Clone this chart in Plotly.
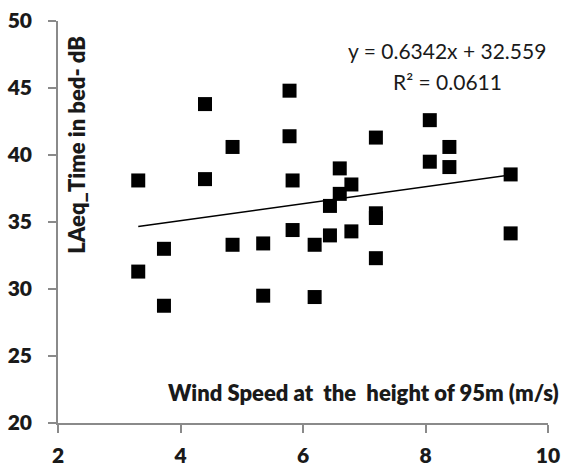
import plotly.graph_objects as go

# Wind speed at 95 m (m/s) and indoor LAeq while in bed (dB)
wind_speed = [3.31, 3.31, 3.73, 3.73, 4.40, 4.40, 4.85, 4.85, 5.35, 5.35,
              5.78, 5.78, 5.83, 5.83, 6.19, 6.19, 6.44, 6.44, 6.60, 6.60,
              6.79, 6.79, 7.19, 7.19, 7.19, 7.19, 8.07, 8.07, 8.39, 8.39,
              9.39, 9.39]
laeq_bed = [38.1, 31.3, 33.0, 28.75, 43.8, 38.2, 40.6, 33.3, 33.4, 29.5,
            44.8, 41.4, 38.1, 34.4, 33.3, 29.4, 36.2, 34.0, 39.0, 37.1,
            37.8, 34.3, 41.3, 35.65, 35.3, 32.3, 42.6, 39.5, 40.6, 39.1,
            38.55, 34.15]

# Linear fit reported on the chart
slope = 0.6342
intercept = 32.559
r_squared = 0.0611

x_ticks = [2, 4, 6, 8, 10]
y_ticks = [20, 25, 30, 35, 40, 45, 50]

fit_x = [min(wind_speed), max(wind_speed)]
fit_y = [slope * v + intercept for v in fit_x]

FONT = "Lato"
AXIS_GREY = "#8a8a8a"
TEXT = "#1a1a1a"

fig = go.Figure()
fig.add_trace(go.Scatter(
    x=wind_speed, y=laeq_bed, mode="markers",
    marker=dict(symbol="square", size=14, color="black"),
    showlegend=False,
))
fig.add_trace(go.Scatter(
    x=fit_x, y=fit_y, mode="lines",
    line=dict(color="black", width=1.5),
    showlegend=False,
))

axis_common = dict(
    showgrid=False, zeroline=False, showline=True, automargin=False,
    linecolor=AXIS_GREY, linewidth=1.5,
    ticks="outside", ticklen=8, tickwidth=1.5, tickcolor=AXIS_GREY,
    tickfont=dict(family=FONT, size=21, color=TEXT, weight=800),
)

fig.update_xaxes(range=[2, 10], tickvals=x_ticks, ticklabelstandoff=5,
                 **axis_common)
fig.update_yaxes(range=[20, 50], tickvals=y_ticks, ticklabelstandoff=12,
                 **axis_common)

fig.update_layout(
    width=568, height=466,
    margin=dict(l=58, r=19.5, t=20.7, b=42.7, autoexpand=False),
    paper_bgcolor="white", plot_bgcolor="white",
    font=dict(family=FONT, color=TEXT),
    annotations=[
        dict(text="LAeq_Time in bed- dB", xref="paper", yref="paper",
             x=0.038, y=0.691, textangle=-90, showarrow=False,
             xanchor="center", yanchor="middle",
             font=dict(family=FONT, size=22, weight=800)),
        dict(text="Wind Speed at\u00a0 the\u00a0 height of 95m (m/s)",
             xref="paper", yref="paper", x=0.624, y=0.075,
             showarrow=False, xanchor="center", yanchor="middle",
             font=dict(family=FONT, size=22, weight=800)),
        dict(text=f"y = {slope}x + {intercept}", xref="paper", yref="paper",
             x=0.794, y=0.927, showarrow=False,
             xanchor="center", yanchor="middle",
             font=dict(family=FONT, size=21)),
        dict(text=f"R\u00b2 = {r_squared}", xref="paper", yref="paper",
             x=0.794, y=0.849, showarrow=False,
             xanchor="center", yanchor="middle",
             font=dict(family=FONT, size=21)),
    ],
)

fig.write_html("out.html")
